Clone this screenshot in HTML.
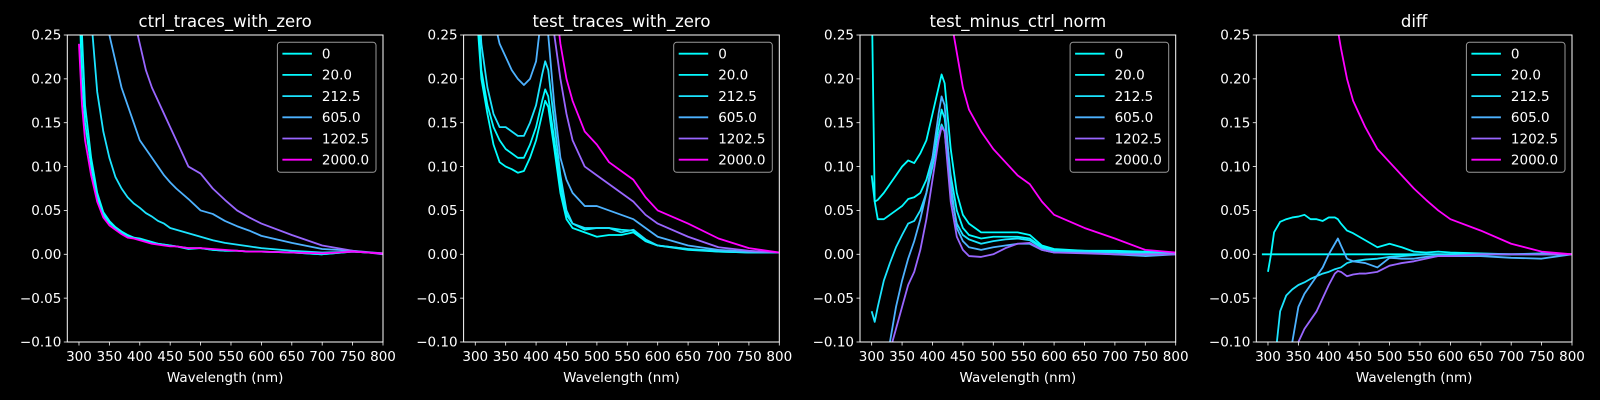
<!DOCTYPE html>
<html><head><meta charset="utf-8"><style>
html,body{margin:0;padding:0;background:#000;}
svg{display:block;font-family:"DejaVu Sans","Liberation Sans",sans-serif;}
</style></head><body>
<svg id="chart" width="1600" height="400" viewBox="0 0 1600 400" xmlns="http://www.w3.org/2000/svg">
<rect width="1600" height="400" fill="#000"/>
</svg>
<script>
const wavelengths = [290,300,305,310,320,330,340,350,360,370,380,390,400,410,415,420,430,440,450,460,480,500,520,540,560,580,600,650,700,750,800];
const seriesLabels = ["0","20.0","212.5","605.0","1202.5","2000.0"];
const seriesColors = ["#00ffff","#05faff","#1be4ff","#4db2ff","#9966ff","#ff00ff"];
const panelTitles = ["ctrl_traces_with_zero","test_traces_with_zero","test_minus_ctrl_norm","diff"];
const yTicks = [0.25,0.20,0.15,0.10,0.05,0.00,-0.05,-0.10];
const yTickLabels = ["0.25","0.20","0.15","0.10","0.05","0.00","\u22120.05","\u22120.10"];
const xTicks = [300,350,400,450,500,550,600,650,700,750,800];
const _ = null;
// panel 1: ctrl
const ctrl0    = [_,0.30,0.20,0.15,0.10,0.065,0.045,0.036,0.030,0.025,0.021,0.019,0.017,0.015,0.014,0.013,0.012,0.011,0.010,0.009,0.007,0.007,0.005,0.004,0.004,0.003,0.003,0.002,0.000,0.003,0.001];
const ctrl20   = [_,0.40,0.25,0.17,0.11,0.07,0.048,0.038,0.031,0.026,0.022,0.019,0.018,0.016,0.015,0.014,0.012,0.011,0.010,0.009,0.006,0.007,0.005,0.004,0.004,0.003,0.003,0.002,0.000,0.003,0.001];
const ctrl212  = [_,_,_,0.50,0.27,0.185,0.14,0.11,0.088,0.075,0.065,0.058,0.053,0.047,0.045,0.043,0.038,0.035,0.030,0.028,0.024,0.020,0.016,0.013,0.011,0.009,0.007,0.004,0.002,0.003,0.001];
const ctrl605  = [_,_,_,_,_,_,0.30,0.25,0.22,0.19,0.17,0.15,0.13,0.12,0.115,0.11,0.10,0.09,0.082,0.075,0.063,0.050,0.046,0.038,0.032,0.027,0.021,0.013,0.006,0.004,0.001];
const ctrl1202 = [_,_,_,_,_,_,_,_,_,_,_,0.27,0.24,0.21,0.20,0.19,0.175,0.16,0.145,0.13,0.10,0.092,0.075,0.062,0.050,0.042,0.035,0.022,0.010,0.004,0.000];
const ctrl2000 = [_,0.24,0.17,0.13,0.09,0.06,0.042,0.033,0.028,0.023,0.019,0.018,0.016,0.014,0.013,0.012,0.011,0.010,0.009,0.009,0.007,0.007,0.006,0.005,0.004,0.003,0.003,0.002,0.001,0.003,0.001];
// panel 2: test
const test0    = [_,0.30,0.25,0.20,0.16,0.125,0.105,0.10,0.097,0.093,0.095,0.11,0.13,0.16,0.175,0.168,0.12,0.07,0.04,0.03,0.025,0.02,0.022,0.022,0.025,0.015,0.01,0.005,0.003,0.002,0.002];
const test20   = [_,0.35,0.27,0.21,0.17,0.145,0.13,0.12,0.115,0.11,0.11,0.125,0.145,0.175,0.188,0.18,0.13,0.08,0.045,0.035,0.028,0.03,0.03,0.028,0.027,0.015,0.01,0.006,0.003,0.002,0.002];
const test212  = [_,0.40,0.30,0.24,0.19,0.16,0.145,0.145,0.14,0.135,0.135,0.15,0.17,0.205,0.22,0.21,0.15,0.09,0.05,0.035,0.03,0.03,0.03,0.025,0.028,0.017,0.01,0.006,0.004,0.002,0.002];
const test605  = [_,_,_,_,_,0.27,0.24,0.225,0.21,0.20,0.193,0.20,0.22,0.28,0.30,0.25,0.17,0.11,0.085,0.07,0.055,0.055,0.05,0.045,0.04,0.03,0.02,0.01,0.005,0.003,0.002];
const test1202 = [_,_,_,_,_,_,_,_,_,_,_,_,_,_,_,0.35,0.25,0.20,0.16,0.13,0.10,0.09,0.08,0.07,0.06,0.045,0.035,0.02,0.008,0.004,0.002];
const test2000 = [_,_,_,_,_,_,_,_,_,_,_,_,_,_,_,_,0.30,0.24,0.20,0.175,0.14,0.125,0.105,0.095,0.085,0.065,0.05,0.035,0.018,0.007,0.002];
// panel 3: test minus ctrl
const norm0    = [_,0.30,0.06,0.062,0.07,0.08,0.09,0.10,0.107,0.104,0.115,0.13,0.16,0.19,0.205,0.195,0.12,0.07,0.045,0.035,0.025,0.025,0.025,0.025,0.022,0.01,0.006,0.004,0.004,0.003,0.002];
const norm20   = [_,0.09,0.06,0.04,0.04,0.045,0.05,0.055,0.063,0.065,0.07,0.085,0.11,0.145,0.165,0.155,0.09,0.05,0.03,0.022,0.018,0.02,0.02,0.02,0.018,0.008,0.005,0.004,0.003,0.002,0.002];
const norm212  = [_,-0.065,-0.077,-0.06,-0.03,-0.01,0.008,0.022,0.035,0.038,0.05,0.07,0.10,0.135,0.148,0.14,0.07,0.035,0.022,0.017,0.012,0.015,0.017,0.018,0.016,0.007,0.004,0.003,0.002,0.001,0.001];
const norm605  = [_,_,_,_,-0.14,-0.10,-0.06,-0.03,-0.005,0.015,0.04,0.07,0.11,0.16,0.18,0.17,0.08,0.03,0.015,0.008,0.005,0.008,0.01,0.012,0.012,0.005,0.002,0.002,0.0,-0.002,0.0];
const norm1202 = [_,_,_,_,-0.15,-0.11,-0.085,-0.06,-0.035,-0.02,0.005,0.04,0.085,0.13,0.145,0.14,0.06,0.02,0.005,-0.002,-0.003,0.0,0.007,0.012,0.013,0.005,0.002,0.001,0.0,0.0,0.0];
const norm2000 = [_,_,_,_,_,_,_,_,_,_,_,_,_,_,_,0.35,0.27,0.23,0.19,0.165,0.14,0.12,0.105,0.09,0.08,0.06,0.045,0.03,0.018,0.005,0.002];
// panel 4: diff
const diff0    = [0,0,0,0,0,0,0,0,0,0,0,0,0,0,0,0,0,0,0,0,0,0,0,0,0,0,0,0,0,0,0];
const diff20   = [_,-0.02,0.0,0.025,0.037,0.04,0.042,0.043,0.045,0.04,0.04,0.038,0.042,0.042,0.04,0.035,0.027,0.024,0.02,0.016,0.008,0.012,0.008,0.003,0.002,0.003,0.002,0.001,0.0,0.001,0.0];
const diff212  = [_,_,_,-0.13,-0.065,-0.047,-0.04,-0.035,-0.032,-0.028,-0.025,-0.022,-0.02,-0.017,-0.016,-0.015,-0.01,-0.008,-0.007,-0.006,-0.005,-0.003,-0.002,-0.001,0,0,0,0,0,0,0];
const diff605  = [_,_,_,_,_,-0.13,-0.10,-0.06,-0.045,-0.035,-0.025,-0.015,0.0,0.012,0.018,0.01,-0.005,-0.008,-0.009,-0.01,-0.015,-0.004,-0.005,-0.005,-0.003,-0.002,-0.002,-0.002,-0.004,-0.005,0.0];
const diff1202 = [_,_,_,_,_,_,-0.12,-0.10,-0.085,-0.075,-0.065,-0.05,-0.035,-0.022,-0.019,-0.02,-0.025,-0.023,-0.022,-0.022,-0.02,-0.013,-0.01,-0.008,-0.005,-0.002,-0.002,0,0,0,0];
const diff2000 = [_,_,_,_,_,_,_,_,_,_,_,_,_,0.28,0.255,0.235,0.20,0.175,0.16,0.145,0.12,0.105,0.09,0.075,0.062,0.05,0.04,0.027,0.012,0.003,0.0];

const panelSeries = [
  [ctrl0,ctrl20,ctrl212,ctrl605,ctrl1202,ctrl2000],
  [test0,test20,test212,test605,test1202,test2000],
  [norm0,norm20,norm212,norm605,norm1202,norm2000],
  [diff0,diff20,diff212,diff605,diff1202,diff2000]
];

const NS = "http://www.w3.org/2000/svg";
const svg = document.getElementById('chart');
const AX_W = 315.7, AX_TOP = 35, AX_BOT = 342, XMIN = 280.8, XMAX = 800, YMIN = -0.10, YMAX = 0.25;
const panelLefts = [67.3, 463.6, 860, 1256.3];
function mk(tag, attrs, parent){ const e=document.createElementNS(NS,tag); for(const k in attrs) e.setAttribute(k,attrs[k]); (parent||svg).appendChild(e); return e; }

panelTitles.forEach((title, p) => {
  const L = panelLefts[p];
  const xs = v => L + (v - XMIN) / (XMAX - XMIN) * AX_W;
  const ys = v => AX_BOT - (v - YMIN) / (YMAX - YMIN) * (AX_BOT - AX_TOP);
  const g = mk('g', {});
  
  
  const clip = mk('clipPath', {id:'clip'+p}, g);
  mk('rect', {x:L, y:AX_TOP, width:AX_W, height:AX_BOT-AX_TOP}, clip);
  const sg = mk('g', {'clip-path':'url(#clip'+p+')'}, g);
  panelSeries[p].forEach((vals, s) => {
    let d = '', pen = false;
    vals.forEach((v, i) => {
      if (v === null) { pen = false; return; }
      d += (pen ? 'L' : 'M') + xs(wavelengths[i]).toFixed(2) + ',' + ys(v).toFixed(2);
      pen = true;
    });
    const path = mk('path', {d:d, fill:'none', stroke:seriesColors[s], 'stroke-width':1.8, 'stroke-linejoin':'round'}, sg);
    
    
  });
  const fr = mk('rect', {x:L, y:AX_TOP, width:AX_W, height:AX_BOT-AX_TOP, fill:'none', stroke:'#fff', 'stroke-width':1}, g);
  
  
  yTicks.forEach((t, i) => {
    const y = ys(t);
    mk('line', {x1:L-3.5, x2:L, y1:y, y2:y, stroke:'#fff', 'stroke-width':0.8}, g);
    const tx = mk('text', {x:L-6, y:y+4.7, 'text-anchor':'end', fill:'#fff', 'font-size':13.5}, g);
    tx.textContent = yTickLabels[i];
    
    
  });
  xTicks.forEach(t => {
    const x = xs(t);
    mk('line', {x1:x, x2:x, y1:AX_BOT, y2:AX_BOT+3.5, stroke:'#fff', 'stroke-width':0.8}, g);
    const tx = mk('text', {x:x, y:AX_BOT+19, 'text-anchor':'middle', fill:'#fff', 'font-size':13.5}, g);
    tx.textContent = String(t);
    
    
  });
  const xl = mk('text', {x:L+AX_W/2, y:382, 'text-anchor':'middle', fill:'#fff', 'font-size':13.5}, g);
  xl.textContent = 'Wavelength (nm)';
  
  
  const tt = mk('text', {x:L+AX_W/2, y:27, 'text-anchor':'middle', fill:'#fff', 'font-size':16.5}, g);
  tt.textContent = title;
  
  
  const lg = mk('g', {}, g);
  
  
  const LX = L + AX_W - 105.6;
  mk('rect', {x:LX, y:42.3, width:98.6, height:130, rx:3, fill:'#000', 'fill-opacity':0.8, stroke:'#999', 'stroke-width':1}, lg);
  seriesLabels.forEach((lab, s) => {
    const y = 53.7 + 21.2 * s;
    const e = mk('g', {}, lg);
    
    
    mk('line', {x1:LX+5, x2:LX+34.5, y1:y, y2:y, stroke:seriesColors[s], 'stroke-width':1.8}, e);
    const t = mk('text', {x:LX+44.5, y:y+4.8, fill:'#fff', 'font-size':13.5}, e);
    t.textContent = lab;
  });
});
</script>
</body></html>
